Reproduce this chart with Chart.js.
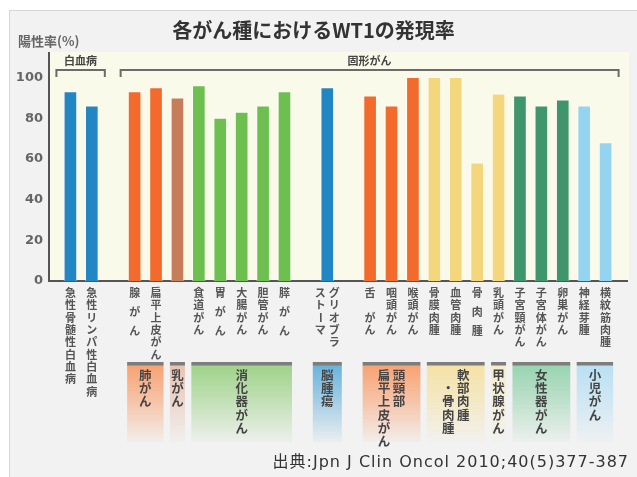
<!DOCTYPE html>
<html>
<head>
<meta charset="utf-8">
<script src="https://cdn.jsdelivr.net/npm/chart.js@4.4.0/dist/chart.umd.min.js"></script>
<style>
  html, body { margin: 0; padding: 0; background: #fff; }
  #wrap { position: relative; width: 637px; height: 477px; overflow: hidden; }
  #panel { position: absolute; left: 9px; top: 10px; width: 700px; height: 500px;
           background: #f2f2f2; border-left: 1px solid #d6d6d6; border-top: 1px solid #d6d6d6; }
  #myCanvas { position: absolute; left: 0; top: 0; }
</style>
</head>
<body>
<div id="wrap">
  <div id="panel"></div>
  <canvas id="myCanvas" width="637" height="477"></canvas>
</div>
<script>
// bar names (\n = next column, read right to left)
const categories = [
  "急性骨髄性白血病", "急性リンパ性白血病",
  "腺がん", "扁平上皮がん", "", "食道がん", "胃がん", "大腸がん", "胆管がん", "膵がん",
  "グリオブラ\nストーマ",
  "舌　がん", "咽頭がん", "喉頭がん", "骨膜肉腫", "血管肉腫", "骨肉腫", "乳頭がん",
  "子宮頸がん", "子宮体がん", "卵巣がん", "神経芽腫", "横紋筋肉腫"
];
// 陽性率 (%)
const positiveRate = [
  93, 86,
  93, 95, 90, 96, 80, 83, 86, 93,
  95,
  91, 86, 100, 100, 100, 58, 92,
  91, 86, 89, 86, 68
];
const yTicks = [0, 20, 40, 60, 80, 100];

// bottom group boxes (first/last = bar index)
const groupLabels = ["肺がん", "乳がん", "消化器がん", "脳腫瘍", "頭頸部\n扁平上皮がん",
  "軟部肉腫\n　・骨肉腫", "甲状腺がん", "女性器がん", "小児がん"];
const groupFirst = [2, 4, 5, 10, 11, 14, 17, 18, 21];
const groupLast = [3, 4, 9, 10, 13, 16, 17, 20, 22];

// top brackets
const bracketLabels = ["白血病", "固形がん"];
const bracketFirst = [0, 2];
const bracketLast = [1, 22];

const title = "各がん種におけるWT1の発現率";
const yLabel = "陽性率(%)";
const source = "出典:Jpn J Clin Oncol 2010;40(5)377-387";

// ---- styling ----
const palette = {
  blue: "#2386c4", orange: "#f26a2c", brown: "#c67d59", green: "#6dbf50",
  yellow: "#f4d67c", teal: "#3f956c", sky: "#95d4f1"
};
const barColorKeys = [
  "blue", "blue",
  "orange", "orange", "brown", "green", "green", "green", "green", "green",
  "blue",
  "orange", "orange", "orange", "yellow", "yellow", "yellow", "yellow",
  "teal", "teal", "teal", "sky", "sky"
];
const groupColors = ["#f8a272", "#e7c3b2", "#9fd38a", "#6ab3dc", "#f8a272",
  "#f5e2a6", "#f7eccb", "#98d4b0", "#b9e0f3"];
const groupPad = [1, 1, 1, 8, 1, 1, 1, 1, 1];
const gapAfter = [1, 9, 10]; // empty slot after these bars
const BAR_W = 13;
const JP = "'Noto Sans CJK JP', sans-serif";

// category slots with blank spacers at both ends and between groups
const slotOf = [];
const labels = [""];
categories.forEach((c, i) => {
  slotOf.push(labels.length);
  labels.push(c);
  if (gapAfter.includes(i)) labels.push("");
});
labels.push("");
const values = labels.map(() => null);
const colors = labels.map(() => "transparent");
positiveRate.forEach((v, i) => {
  values[slotOf[i]] = v;
  colors[slotOf[i]] = palette[barColorKeys[i]];
});

function fade(hex, a) {
  const n = parseInt(hex.slice(1), 16);
  return `rgba(${(n >> 16) & 255},${(n >> 8) & 255},${n & 255},${a})`;
}

function drawColumn(ctx, text, x, y0, pitch) {
  [...text].forEach((ch, j) => {
    const y = y0 + j * pitch;
    if (ch === "ー") {
      ctx.save();
      ctx.translate(x, y);
      ctx.rotate(Math.PI / 2);
      ctx.fillText(ch, 0, 0);
      ctx.restore();
    } else {
      ctx.fillText(ch, x, y);
    }
  });
}

const decor = {
  id: "decor",
  beforeDraw(chart) {
    const { ctx, chartArea: a } = chart;
    ctx.save();
    ctx.fillStyle = "#fafaeb";
    ctx.fillRect(a.left, a.top - 1, a.right - a.left + 2, a.bottom - a.top + 1);
    ctx.restore();
  },
  afterDraw(chart) {
    const { ctx } = chart;
    const xs = chart.scales.x;
    const px = (b) => xs.getPixelForValue(slotOf[b]);
    ctx.save();
    ctx.textAlign = "center";
    ctx.textBaseline = "middle";

    // brackets
    ctx.strokeStyle = "#6b6b6b";
    ctx.lineWidth = 2;
    bracketLabels.forEach((t, k) => {
      const x0 = px(bracketFirst[k]) - 14;
      const x1 = px(bracketLast[k]) + 13;
      ctx.beginPath();
      ctx.moveTo(x0, 77);
      ctx.lineTo(x0, 70);
      ctx.lineTo(x1, 70);
      ctx.lineTo(x1, 77);
      ctx.stroke();
      ctx.fillStyle = "#444";
      ctx.font = `bold 11px ${JP}`;
      ctx.fillText(t, (x0 + x1) / 2, 61);
    });

    // bar labels, vertical
    ctx.fillStyle = "#555";
    ctx.font = `bold 11px ${JP}`;
    categories.forEach((name, b) => {
      if (!name) return;
      const cols = name.split("\n");
      cols.forEach((col, c) => {
        const x = px(b) + ((cols.length - 1) / 2 - c) * 14;
        const pitch = (cols.length === 1 && col.length === 3) ? 19 : 12.3;
        drawColumn(ctx, col, x, 293, pitch);
      });
    });

    // group boxes
    groupLabels.forEach((g, k) => {
      const x0 = px(groupFirst[k]) - BAR_W / 2 - groupPad[k];
      const x1 = px(groupLast[k]) + BAR_W / 2 + groupPad[k];
      const grad = ctx.createLinearGradient(0, 365, 0, 442);
      grad.addColorStop(0, fade(groupColors[k], 1));
      grad.addColorStop(0.5, fade(groupColors[k], 0.55));
      grad.addColorStop(1, fade(groupColors[k], 0.05));
      ctx.fillStyle = grad;
      ctx.fillRect(x0, 365, x1 - x0, 77);
      ctx.fillStyle = "#7d7d7d";
      ctx.fillRect(x0, 362, x1 - x0, 3.5);
      ctx.fillStyle = "#444";
      ctx.font = `bold 12.5px ${JP}`;
      const cols = g.split("\n");
      const cx = (x0 + x1) / 2;
      cols.forEach((col, c) => {
        drawColumn(ctx, col, cx + ((cols.length - 1) / 2 - c) * 15, 375, 13.3);
      });
    });

    // axis caption and source
    ctx.fillStyle = "#666";
    ctx.font = `bold 13px ${JP}`;
    ctx.textAlign = "left";
    ctx.fillText(yLabel, 18, 41);
    ctx.fillStyle = "#333";
    ctx.font = `16px 'DejaVu Sans', ${JP}`;
    ctx.letterSpacing = "1px";
    ctx.textAlign = "right";
    ctx.fillText(source, 629, 463);
    ctx.restore();
  }
};

const ctx = document.getElementById("myCanvas").getContext("2d");
new Chart(ctx, {
  type: "bar",
  data: {
    labels: labels,
    datasets: [{
      data: values,
      backgroundColor: colors,
      borderColor: "rgba(255,255,255,0.45)",
      borderWidth: 1,
      barThickness: BAR_W
    }]
  },
  options: {
    responsive: false,
    animation: false,
    layout: { padding: { left: 0, right: 10, top: 0, bottom: 0 } },
    plugins: {
      legend: { display: false },
      tooltip: { enabled: false },
      title: {
        display: true,
        text: title,
        color: "#333",
        font: { family: JP, size: 20, weight: "bold" },
        padding: { top: 18, bottom: 11 }
      }
    },
    scales: {
      x: {
        type: "category",
        offset: false,
        grid: { display: false, drawTicks: false },
        border: { color: "#555", width: 2 },
        ticks: { display: false },
        afterFit: (s) => { s.height = 196; }
      },
      y: {
        min: 0,
        max: 112,
        grid: { display: false, drawTicks: false },
        border: { color: "#555", width: 2 },
        afterBuildTicks: (s) => { s.ticks = yTicks.map((v) => ({ value: v })); },
        afterFit: (s) => { s.width = 49; },
        ticks: {
          color: "#666",
          padding: 6,
          font: { family: "'DejaVu Sans', sans-serif", size: 13, weight: "bold" }
        }
      }
    }
  },
  plugins: [decor]
});
</script>
</body>
</html>
